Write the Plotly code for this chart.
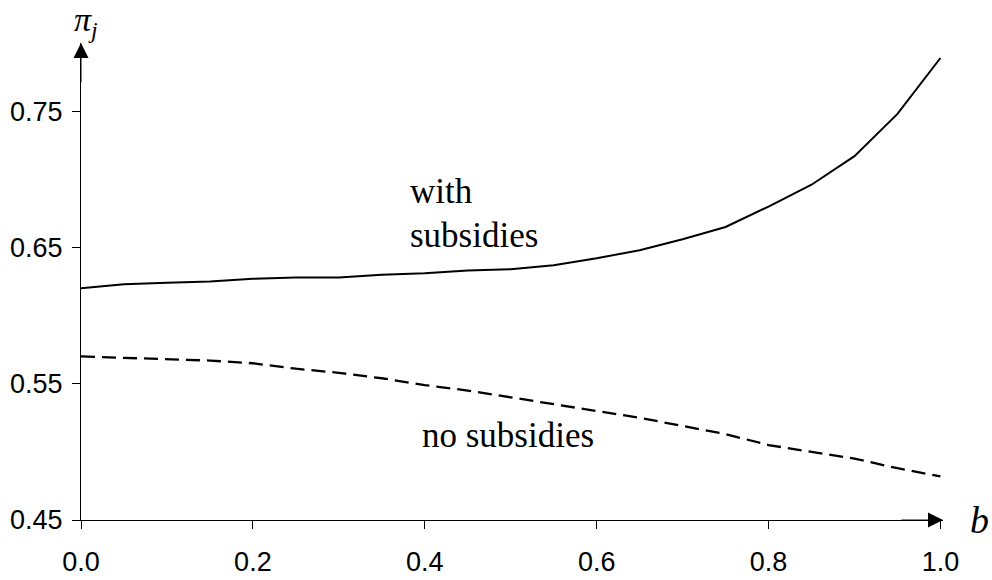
import plotly.graph_objects as go

# ---- data ----
b_values = [0.00, 0.05, 0.10, 0.15, 0.20, 0.25, 0.30, 0.35, 0.40, 0.45, 0.50,
            0.55, 0.60, 0.65, 0.70, 0.75, 0.80, 0.85, 0.90, 0.95, 1.00]
with_subsidies = [0.620, 0.623, 0.624, 0.625, 0.627, 0.628, 0.628, 0.630, 0.631, 0.633, 0.634,
                  0.637, 0.642, 0.648, 0.656, 0.665, 0.680, 0.696, 0.717, 0.748, 0.789]
no_subsidies = [0.570, 0.569, 0.568, 0.567, 0.565, 0.561, 0.558, 0.554, 0.549, 0.545, 0.540,
                0.535, 0.530, 0.525, 0.519, 0.513, 0.505, 0.500, 0.495, 0.488, 0.482]
x_ticks = [0.0, 0.2, 0.4, 0.6, 0.8, 1.0]
y_ticks = [0.45, 0.55, 0.65, 0.75]

x_range = [0.0, 1.003]
y_range = [0.45, 0.80]

fig = go.Figure()
fig.add_trace(go.Scatter(x=b_values, y=with_subsidies, mode="lines",
                         line=dict(color="black", width=2), showlegend=False))
fig.add_trace(go.Scatter(x=b_values, y=no_subsidies, mode="lines",
                         line=dict(color="black", width=2.3, dash="14px,7px"), showlegend=False))

tick_font = dict(family="Liberation Sans, Arial, sans-serif", size=27, color="black")
serif = "Liberation Serif, Times New Roman, serif"

fig.update_xaxes(range=x_range, tickvals=x_ticks, tickformat=".1f", showgrid=False, zeroline=False,
                 showline=True, linecolor="black", linewidth=1, ticks="outside", ticklen=8,
                 tickcolor="black", tickwidth=1, tickfont=tick_font, ticklabelstandoff=10,
                 automargin=False)
fig.update_yaxes(range=y_range, tickvals=y_ticks, tickformat=".2f", showgrid=False, zeroline=False,
                 showline=True, linecolor="black", linewidth=1, ticks="outside", ticklen=8,
                 tickcolor="black", tickwidth=1, tickfont=tick_font, ticklabelstandoff=4,
                 automargin=False)

# axis arrowheads
fig.add_annotation(x=x_range[1], y=y_range[0], ax=x_range[1] - 0.05, ay=y_range[0],
                   xref="x", yref="y", axref="x", ayref="y", text="", showarrow=True,
                   arrowhead=2, arrowsize=3, arrowwidth=1, arrowcolor="black")
fig.add_annotation(x=x_range[0], y=y_range[1], ax=x_range[0], ay=y_range[1] - 0.03,
                   xref="x", yref="y", axref="x", ayref="y", text="", showarrow=True,
                   arrowhead=2, arrowsize=3, arrowwidth=1, arrowcolor="black")

# axis titles
fig.add_annotation(x=1.042, y=0.0, xref="paper", yref="paper", text="<i>b</i>", showarrow=False,
                   xanchor="center", yanchor="middle", font=dict(family=serif, size=38, color="black"))
fig.add_annotation(x=0.006, y=1.045, xref="paper", yref="paper",
                   text="<i>π</i><sub><i>j</i></sub>", showarrow=False,
                   xanchor="center", yanchor="middle", font=dict(family=serif, size=34, color="black"))

# curve labels
label_font = dict(family=serif, size=35, color="black")
fig.add_annotation(x=0.380, y=0.691, xref="x", yref="y", text="with", showarrow=False,
                   xanchor="left", yanchor="middle", font=label_font)
fig.add_annotation(x=0.380, y=0.659, xref="x", yref="y", text="subsidies", showarrow=False,
                   xanchor="left", yanchor="middle", font=label_font)
fig.add_annotation(x=0.497, y=0.512, xref="x", yref="y", text="no subsidies", showarrow=False,
                   xanchor="center", yanchor="middle", font=label_font)

fig.update_layout(width=992, height=580, margin=dict(l=81, r=49, t=43, b=60),
                  plot_bgcolor="white", paper_bgcolor="white")

fig.write_html("out.html", config={"displayModeBar": False},
               post_script="document.body.style.margin='0';document.body.style.overflow='hidden';")
